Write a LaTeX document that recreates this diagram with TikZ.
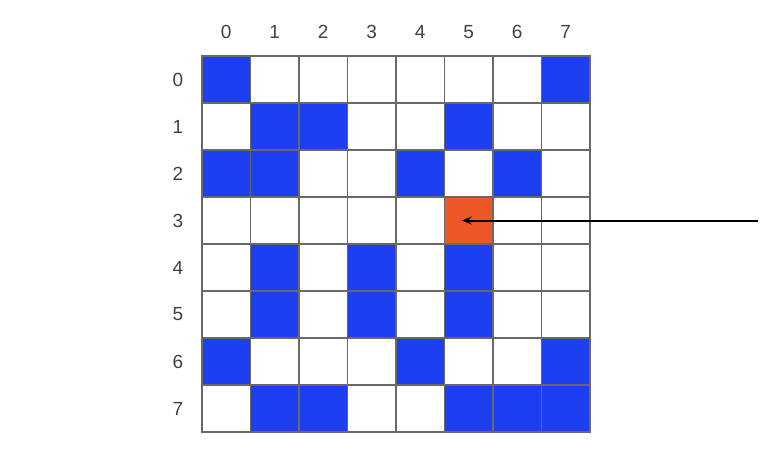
\documentclass[tikz,border=0pt]{standalone}
\usepackage{fontspec}
\setmainfont{Liberation Sans}
\usetikzlibrary{arrows.meta,backgrounds}
\definecolor{wallblue}{RGB}{30,62,242}
\definecolor{goalorange}{RGB}{238,88,38}
\definecolor{gridgray}{RGB}{105,105,105}
\tikzset{cell/.style={draw=gridgray,line width=1.2pt,minimum width=48.5pt,minimum height=47pt,inner sep=0pt,outer sep=0pt},
 wall/.style={fill=wallblue},goal/.style={fill=goalorange},
 index/.style={font=\fontsize{19}{19}\selectfont,text=black!75},
 pointer/.style={-{Stealth[length=10pt,width=8pt]},line width=2pt}}

\begin{document}
\begin{tikzpicture}[x=1pt,y=-1pt]
\useasboundingbox (0,0) rectangle (774,464);
% the maze grid
\foreach \r in {0,...,7}
 \foreach \c in {0,...,7}
  \node[cell] (c\r\c) at ({226.25+48.5*\c},{79.5+47*\r}) {};
% indices
\foreach \c in {0,...,7}
 \node[index] (col\c) at ({226.25+48.5*\c},32) {\c};
\foreach \r in {0,...,7}
 \node[index] (row\r) at (178,{79.5+47*\r}) {\r};
% walls and goal
\begin{scope}[on background layer]
\foreach \r/\c in {0/0,0/7,1/1,1/2,1/5,2/0,2/1,2/4,2/6,4/1,4/3,4/5,5/1,5/3,5/5,6/0,6/4,6/7,7/1,7/2,7/5,7/6,7/7}
 \fill[wall] (c\r\c.south west) rectangle (c\r\c.north east);
\fill[goal] (c35.south west) rectangle (c35.north east);
\end{scope}
\coordinate (tail) at (c35 -| 758,0);
\draw[pointer] (tail) -- ([xshift=-7pt]c35.center);
\end{tikzpicture}
\end{document}
